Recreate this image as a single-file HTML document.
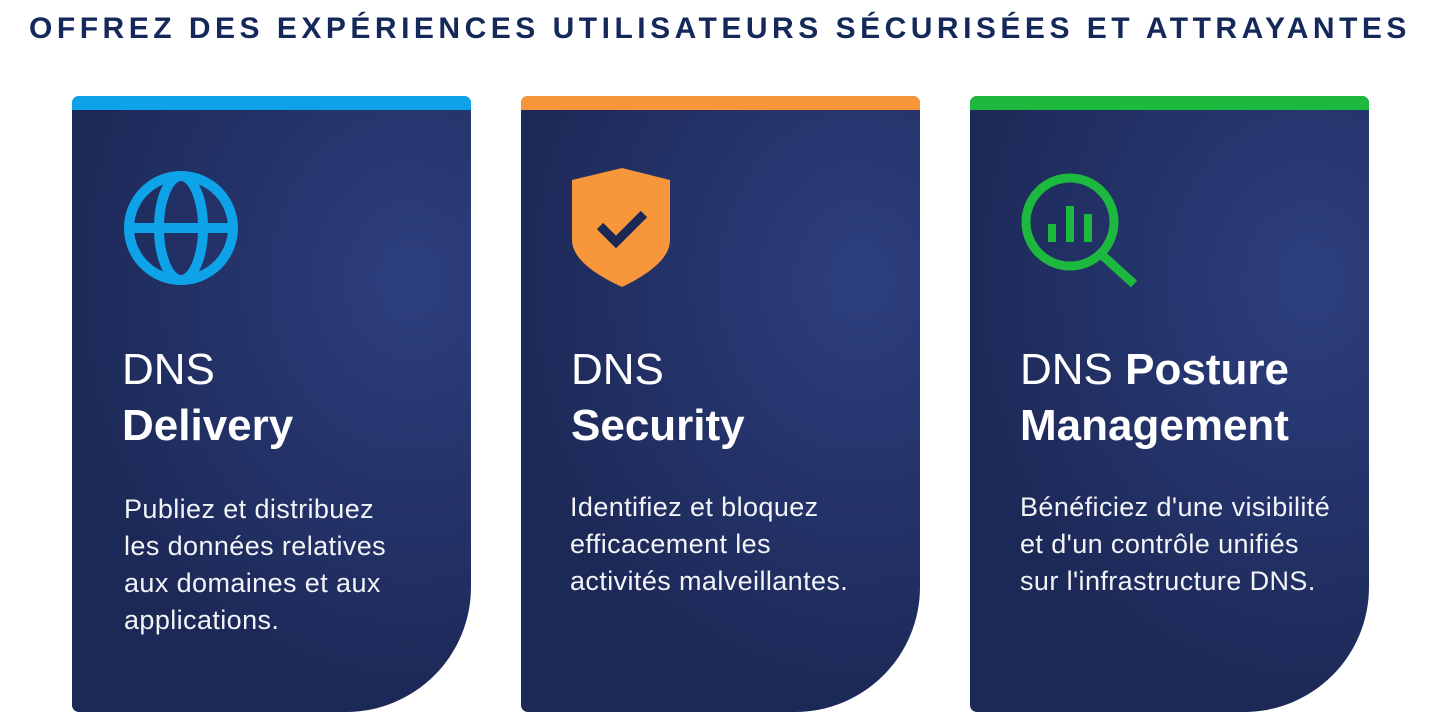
<!DOCTYPE html>
<html><head><meta charset="utf-8"><style>
*{margin:0;padding:0;box-sizing:border-box}
body{width:1440px;height:720px;background:#fff;position:relative;overflow:hidden;font-family:"Liberation Sans",sans-serif}
.title{position:absolute;top:12px;left:0;width:1440px;text-align:center;font-weight:bold;font-size:30px;letter-spacing:4.5px;color:#14285a;white-space:nowrap}
.card{position:absolute;top:96px;width:399px;height:616px;border-radius:7px 7px 125px 7px;overflow:hidden;background:radial-gradient(ellipse 90% 70% at 85% 30%,#2d3f7e 0%,#24336a 50%,#1c2856 100%)}
.bar{height:14px;width:100%}
.card svg{position:absolute}
.h{position:absolute;left:50px;top:246px;color:#fff;font-size:44px;line-height:56px}
.h b{font-weight:bold}
.p{position:absolute;left:52px;top:395px;color:#f2f4f8;font-size:27px;line-height:37px;letter-spacing:0.4px;white-space:nowrap}
</style></head><body>
<div class="title">OFFREZ DES EXPÉRIENCES UTILISATEURS SÉCURISÉES ET ATTRAYANTES</div>

<div class="card" style="left:72px">
<div class="bar" style="background:#0ea3e8"></div>
<svg style="left:50px;top:72px" width="120" height="120" viewBox="0 0 120 120">
<g fill="none" stroke="#0ea3e8" stroke-width="10"><circle cx="59" cy="60" r="52"/><ellipse cx="59" cy="60" rx="22" ry="52"/><line x1="7" y1="60" x2="111" y2="60"/></g></svg>
<div class="h">DNS<br><b>Delivery</b></div>
<div class="p">Publiez et distribuez<br>les données relatives<br>aux domaines et aux<br>applications.</div>
</div>

<div class="card" style="left:521px">
<div class="bar" style="background:#f7963a"></div>
<svg style="left:51px;top:72px" width="100" height="122" viewBox="0 0 100 122">
<path d="M0 12 L50 0 L98 12 L98 72 Q98 96 50 119 Q0 96 0 72 Z" fill="#f7963a"/>
<path d="M28 58 L44 74 L72 46" fill="none" stroke="#1c2856" stroke-width="9"/></svg>
<div class="h">DNS<br><b>Security</b></div>
<div class="p" style="top:393px;left:49px">Identifiez et bloquez<br>efficacement les<br>activités malveillantes.</div>
</div>

<div class="card" style="left:970px">
<div class="bar" style="background:#1db83e"></div>
<svg style="left:48px;top:70px" width="125" height="125" viewBox="0 0 125 125">
<circle cx="52" cy="56" r="44" fill="none" stroke="#1db83e" stroke-width="9"/>
<line x1="83" y1="88" x2="116" y2="118" stroke="#1db83e" stroke-width="9"/>
<rect x="30" y="58" width="8" height="18" fill="#1db83e"/><rect x="48" y="40" width="8" height="36" fill="#1db83e"/><rect x="66" y="48" width="8" height="28" fill="#1db83e"/></svg>
<div class="h">DNS <b>Posture</b><br><b>Management</b></div>
<div class="p" style="top:393px;left:50px">Bénéficiez d'une visibilité<br>et d'un contrôle unifiés<br>sur l'infrastructure DNS.</div>
</div>
</body></html>
